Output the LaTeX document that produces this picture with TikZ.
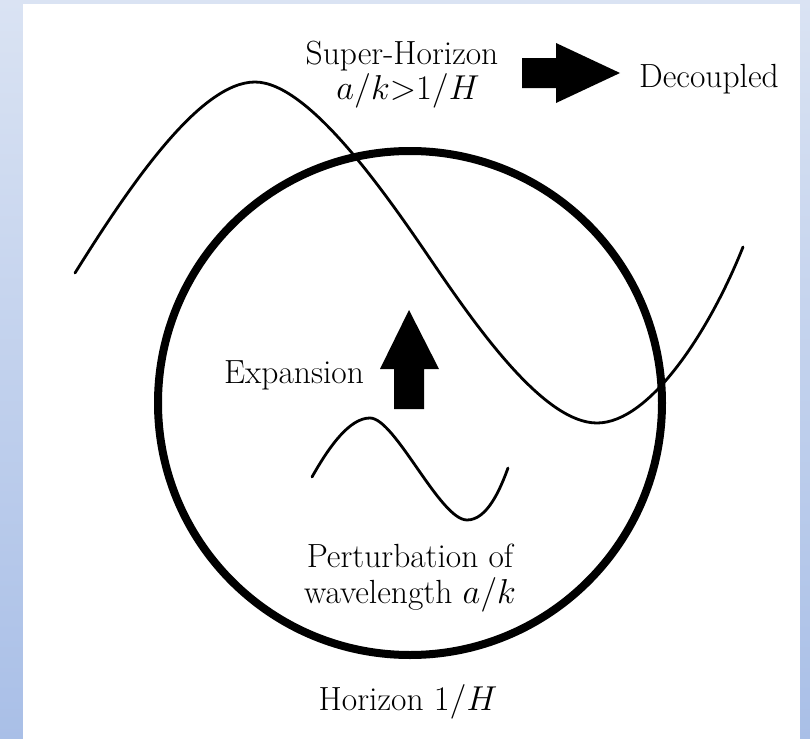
\documentclass[tikz,border=0pt]{standalone}
\begin{document}
\begin{tikzpicture}[x=0.5pt,y=-0.5pt,
  lbl/.style={anchor=base,inner sep=0pt,font=\fontsize{16.75}{20}\selectfont},
  wave/.style={line width=1.4pt,line cap=round},
  fatarrow/.style={fill=black,draw=none}]
\useasboundingbox (0,0) rectangle (810,739);
\shade[top color={rgb,255:red,218;green,227;blue,243},bottom color={rgb,255:red,169;green,191;blue,231}] (0,0) rectangle (810,739);
\fill[white] (23,4) rectangle (800,739);
% horizon circle
\node[circle,draw,line width=4pt,minimum size=252pt,inner sep=0pt] (horizon) at (410,403) {};
% large wave
\draw[wave] (75,273) .. controls (130,185) and (200,82) .. (255,82)
  .. controls (310,82) and (390,200) .. (433,263)
  .. controls (480,332) and (545,423) .. (597,423)
  .. controls (650,423) and (710,330) .. (743,247);
% small wave
\draw[wave] (312,477) .. controls (330,445) and (350,418) .. (370,418)
  .. controls (395,418) and (440,520) .. (467,520)
  .. controls (487,520) and (500,490) .. (508,468);
% expansion arrow
\fill[fatarrow] (394,409) -- (394,369) -- (380,369) -- (409,310) -- (439,369) -- (424,369) -- (424,409) -- cycle;
% decoupled arrow
\fill[fatarrow] (522,58) -- (556,58) -- (556,43) -- (620,73) -- (556,103) -- (556,88) -- (522,88) -- cycle;
% texts
\node[lbl] (super) at (402,64) {Super-Horizon};
\node[lbl] (cond) at (408,99) {$a/k{>}1/H$};
\node[lbl] (dec) at (709,87) {Decoupled};
\node[lbl] (exp) at (294,383) {Expansion};
\node[lbl] (pert) at (410,567) {Perturbation of};
\node[lbl] (wl) at (410,603) {wavelength $a/k$};
\node[lbl] (hor) at (408,710) {Horizon $1/H$};
\end{tikzpicture}
\end{document}
